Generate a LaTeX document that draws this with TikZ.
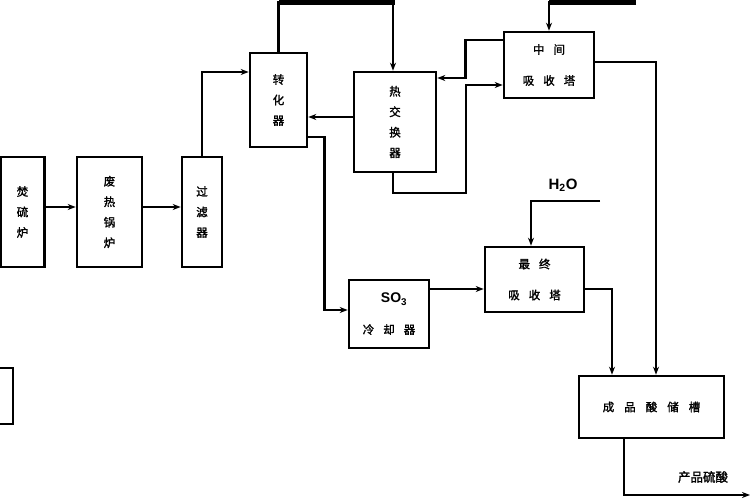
\documentclass[tikz,border=0pt]{standalone}
\usepackage{fontspec}
\setmainfont{Liberation Sans}
\newfontfamily\cjk[FakeBold=1.6]{Noto Sans CJK SC}
\usetikzlibrary{arrows.meta}
\begin{document}
\begin{tikzpicture}[x=1pt,y=-1pt,
  box/.style={draw, line width=2.6pt, inner sep=0pt, align=center, font=\cjk\fontsize{11.5}{20.5}\selectfont},
  wbox/.style={box, font=\cjk\fontsize{11.5}{31}\selectfont},
  arr/.style={line width=2.6pt, -{Stealth[length=8pt,width=6pt]}},
  thickln/.style={line width=6pt},
  lbl/.style={inner sep=0pt}]
\useasboundingbox (0,0) rectangle (750,500);
\clip (0,0) rectangle (750,500);
% boxes
\node[box, minimum width=44pt, minimum height=110pt] (furn) at (22.5,212) {焚\\硫\\炉};
\node[box, minimum width=65pt, minimum height=110pt] (boiler) at (109.5,212) {废\\热\\锅\\炉};
\node[box, minimum width=40pt, minimum height=110pt] (filter) at (202,212) {过\\滤\\器};
\node[box, minimum width=57pt, minimum height=94pt] (conv) at (278.5,100) {转\\化\\器};
\node[box, minimum width=82pt, minimum height=100pt] (hx) at (395,122) {热\\交\\换\\器};
\node[wbox, minimum width=90pt, minimum height=66pt] (mid) at (549,65) {中\hspace{9pt}间\\吸\hspace{9pt}收\hspace{9pt}塔};
\node[wbox, minimum width=80pt, minimum height=68pt] (cool) at (389,314) {\rmfamily\bfseries\fontsize{14}{14}\selectfont\hspace{10pt}SO\textsubscript{3}\\冷\hspace{9pt}却\hspace{9pt}器};
\node[wbox, minimum width=99pt, minimum height=65pt] (final) at (534.5,279.5) {最\hspace{9pt}终\\吸\hspace{9pt}收\hspace{9pt}塔};
\node[box, minimum width=145pt, minimum height=62pt] (tank) at (651.5,407) {成\hspace{10pt}品\hspace{10pt}酸\hspace{10pt}储\hspace{10pt}槽};
\node[box, minimum width=23pt, minimum height=56pt] (part) at (1.5,396) {};
% labels
\node[lbl, font=\bfseries\fontsize{15}{15}\selectfont] (h2o) at (563,185) {H\textsubscript{2}O};
\node[lbl, font=\cjk\fontsize{12.5}{12.5}\selectfont] (prod) at (703,477) {产品硫酸};
% free ends
\coordinate (t1) at (278.5,2);
\coordinate (t2) at (636,2);
\coordinate (w) at (600,201);
\coordinate (out) at (750,495);
% connectors
\draw[arr] ([yshift=5pt]furn.east) -- ([yshift=5pt]boiler.west);
\draw[arr] ([yshift=5pt]boiler.east) -- ([yshift=5pt]filter.west);
\draw[arr] (filter.north) |- ([yshift=28pt]conv.west);
\draw[arr] (conv.north) -- (t1) -| ([xshift=-2pt]hx.north);
\draw[thickln] (t1) -- (t1 -| hx.north);
\draw[arr] (t2) -| (mid.north);
\draw[thickln] (t2) -- (t2 -| mid.north);
\draw[arr] ([yshift=5pt]hx.west) -- ([yshift=5pt]hx.west -| conv.east);
\draw[arr] ([yshift=-37pt]conv.east) -- ++(16,0) |- ([yshift=4pt]cool.west);
\draw[arr] ([yshift=25pt]mid.west) -- ++(-37,0) |- ([yshift=44pt]hx.east);
\draw[arr] ([xshift=-2pt]hx.south) |- (466,193) |- ([yshift=-20pt]mid.west);
\draw[arr] ([yshift=3pt]mid.east) -| ([xshift=4.5pt]tank.north);
\draw[arr] (w) -| ([xshift=-3.5pt]final.north);
\draw[arr] ([yshift=25pt]cool.east) -- ([yshift=25pt]cool.east -| final.west);
\draw[arr] ([yshift=-9.5pt]final.east) -| ([xshift=-39.5pt]tank.north);
\draw[arr] ([xshift=-27.5pt]tank.south) |- (out);
\end{tikzpicture}
\end{document}
